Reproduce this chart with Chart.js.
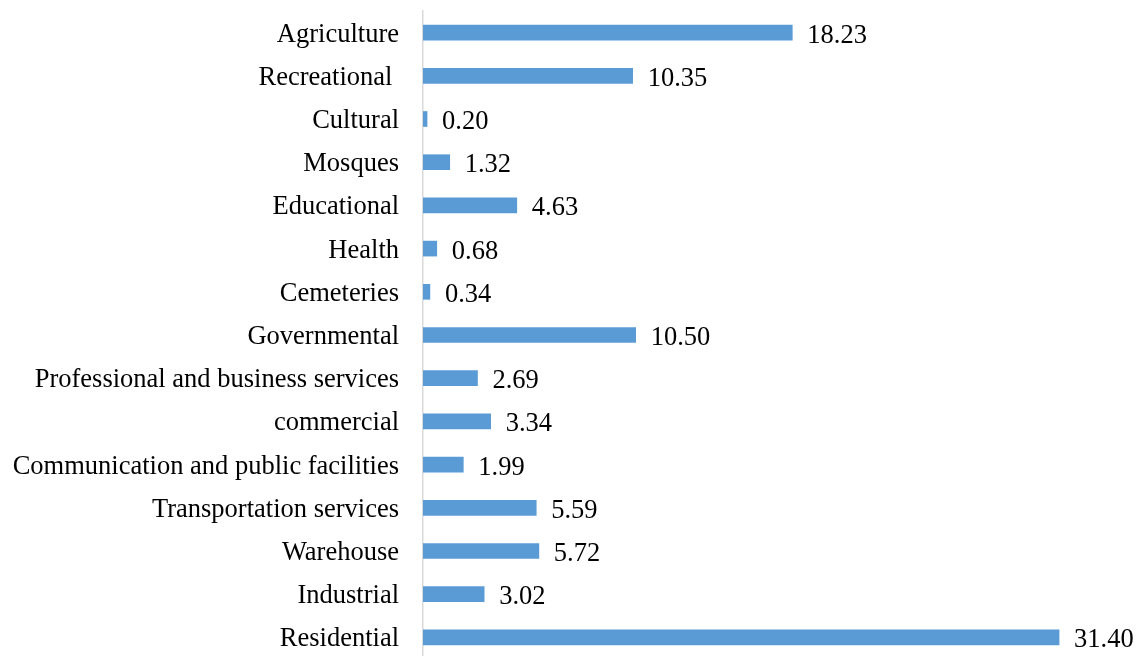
<!DOCTYPE html>
<html>
<head>
<meta charset="utf-8">
<script src="https://cdn.jsdelivr.net/npm/chart.js@4"></script>
<style>
  html, body { margin: 0; padding: 0; background: #fff; overflow: hidden; }
  canvas { display: block; }
</style>
</head>
<body>
<canvas id="landUse" width="1140" height="660"></canvas>
<script>
var categories = ['Agriculture', 'Recreational ', 'Cultural', 'Mosques', 'Educational', 'Health',
  'Cemeteries', 'Governmental', 'Professional and business services', 'commercial',
  'Communication and public facilities', 'Transportation services', 'Warehouse',
  'Industrial', 'Residential'];
var shares = [18.23, 10.35, 0.20, 1.32, 4.63, 0.68, 0.34, 10.50, 2.69, 3.34, 1.99, 5.59, 5.72, 3.02, 31.40];

var FONT = '"Liberation Serif", "Times New Roman", serif';
var FONT_SIZE = 26.5;

// writes the value just past the end of each bar
var valueLabels = {
  id: 'valueLabels',
  afterDatasetsDraw: function(chart) {
    var ctx = chart.ctx;
    var meta = chart.getDatasetMeta(0);
    ctx.save();
    ctx.font = FONT_SIZE + 'px ' + FONT;
    ctx.fillStyle = '#000';
    ctx.textBaseline = 'middle';
    ctx.textAlign = 'left';
    meta.data.forEach(function(bar, i) {
      ctx.fillText(shares[i].toFixed(2), bar.x + 15, bar.y + 3);
    });
    ctx.restore();
  }
};

var ctx = document.getElementById('landUse').getContext('2d');
var chart = new Chart(ctx, {
  type: 'bar',
  data: {
    labels: categories,
    datasets: [{
      data: shares,
      backgroundColor: '#5B9BD5',
      borderWidth: 0,
      barThickness: 15
    }]
  },
  options: {
    indexAxis: 'y',
    responsive: false,
    animation: false,
    layout: { padding: { top: 11, right: 8, bottom: 1, left: 0 } },
    plugins: {
      legend: { display: false },
      tooltip: { enabled: false }
    },
    scales: {
      x: { display: false, min: 0, max: 35 },
      y: {
        afterFit: function(scale) {
          // fixed label column; no extra room above/below for the tick text
          scale.width = 423;
          scale.paddingTop = 0;
          scale.paddingBottom = 0;
        },
        grid: { display: false, drawTicks: false },
        border: { display: true, color: '#d9d9d9', width: 1.5 },
        ticks: {
          padding: 24,
          labelOffset: 2,
          color: '#000',
          autoSkip: false,
          font: { family: FONT, size: FONT_SIZE }
        }
      }
    }
  },
  plugins: [valueLabels]
});
</script>
</body>
</html>
